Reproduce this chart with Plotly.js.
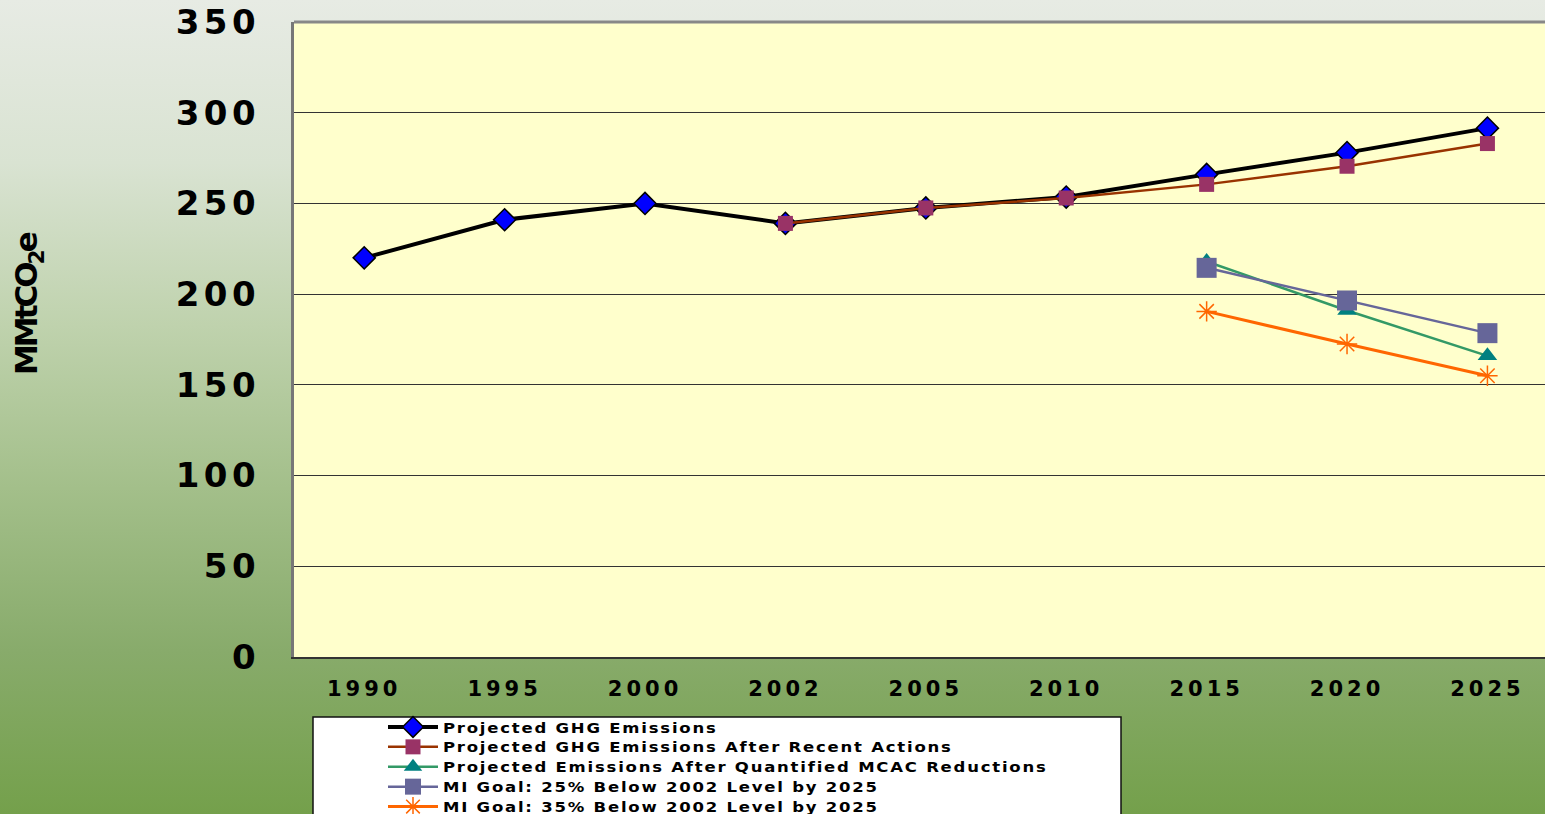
<!DOCTYPE html>
<html>
<head>
<meta charset="utf-8">
<script src="https://cdn.plot.ly/plotly-3.0.1.min.js"></script>
<style>
  html, body { margin:0; padding:0; width:1545px; height:814px; overflow:hidden;
    background: linear-gradient(to bottom, #e7ebe4 0%, #d9e3d2 20%, #bfd2ad 40%, #a3bf8a 60%, #88ab6b 80%, #74a04b 100%); }
  #chart { width:1545px; height:814px; }
  .ytick text { letter-spacing: 4.5px; }
  .xtick text { letter-spacing: 4px; }
  .legendtext { letter-spacing: 1.4px; transform-box: fill-box; transform-origin: 0% 50%; transform: scale(1.27, 1.12); }
  .annotation-text { letter-spacing: -3px; }
</style>
</head>
<body>
<div id="chart"></div>
<script>
const years = ['1990','1995','2000','2002','2005','2010','2015','2020','2025'];
const projected = [220, 241, 250, 239, 247.5, 253.5, 266, 278, 291.5];
const recentYears = ['2002','2005','2010','2015','2020','2025'];
const afterRecent = [239, 247.5, 253, 260.5, 270.5, 283];
const goalYears = ['2015','2020','2025'];
const afterMCAC = [218, 191, 166];
const goal25 = [214.5, 196.5, 178.5];
const goal35 = [190.5, 172.5, 155];
const names = ['Projected GHG Emissions','Projected GHG Emissions After Recent Actions',
  'Projected Emissions After Quantified MCAC Reductions','MI Goal: 25% Below 2002 Level by 2025',
  'MI Goal: 35% Below 2002 Level by 2025'];

const F = 'DejaVu Sans, Verdana, sans-serif';
const traces = [
  {x: years, y: projected, name: names[0], mode:'lines+markers',
   line:{color:'#000000', width:4},
   marker:{symbol:'diamond', size:17, color:'#0000ff', line:{color:'#000000', width:1.5}}},
  {x: recentYears, y: afterRecent, name: names[1], mode:'lines+markers',
   line:{color:'#993300', width:2.5},
   marker:{symbol:'square', size:15, color:'#993366', line:{width:0}}},
  {x: goalYears, y: afterMCAC, name: names[2], mode:'lines+markers',
   line:{color:'#339966', width:2.5},
   marker:{symbol:'triangle-up', size:17, color:'#008080', line:{width:0}}},
  {x: goalYears, y: goal25, name: names[3], mode:'lines+markers',
   line:{color:'#666699', width:2.5},
   marker:{symbol:'square', size:20, color:'#666699', line:{width:0}}},
  {x: goalYears, y: goal35, name: names[4], mode:'lines+markers',
   line:{color:'#ff6600', width:3},
   marker:{symbol:'asterisk-open', size:17, color:'#ff6600', line:{color:'#ff6600', width:1.5}}}
];

const layout = {
  width:1545, height:814,
  margin:{l:294, r:0, t:22, b:157, autoexpand:false},
  paper_bgcolor:'rgba(0,0,0,0)',
  plot_bgcolor:'#ffffcc',
  showlegend:true,
  xaxis:{type:'category', categoryorder:'array', categoryarray: years,
    range:[-0.5, 8.41], showgrid:false, zeroline:false,
    showline:true, linecolor:'#333333', linewidth:2, ticks:'', ticklen:0,
    ticklabelstandoff:12,
    tickfont:{family:F, size:21, color:'#000000', weight:'bold'}},
  yaxis:{range:[0,350], tickvals:[0,50,100,150,200,250,300,350],
    showgrid:true, gridcolor:'#333333', gridwidth:1, zeroline:false,
    showline:true, linecolor:'#777777', linewidth:3, ticks:'', ticklen:0,
    ticklabelstandoff:24,
    tickfont:{family:F, size:34, color:'#000000', weight:'bold'}},
  legend:{x:(383-294)/1251, xanchor:'left', y:(657-712)/635, yanchor:'top',
    bgcolor:'rgba(0,0,0,0)', borderwidth:0, itemwidth:50, tracegroupgap:0,
    font:{family:F, size:13, color:'#000000', weight:'bold'}},
  shapes:[
    {type:'rect', xref:'paper', yref:'paper', x0:(313-294)/1251, x1:(1121-294)/1251,
     y0:(657-717)/635, y1:-0.4, line:{color:'#111111', width:1.5}, fillcolor:'#ffffff', layer:'below'},
    {type:'line', xref:'paper', yref:'paper', x0:0, x1:1, y0:1, y1:1, line:{color:'#888888', width:3}}
  ],
  annotations:[
    {text:'MMtCO<sub>2</sub>e', xref:'paper', yref:'paper', x:(28-294)/1251, y:(657-304)/635,
     xanchor:'center', yanchor:'middle', showarrow:false, textangle:-90,
     font:{family:F, size:31, color:'#000000', weight:'bold'}}
  ]
};
Plotly.newPlot('chart', traces, layout, {displayModeBar:false, staticPlot:true});
</script>
</body>
</html>
